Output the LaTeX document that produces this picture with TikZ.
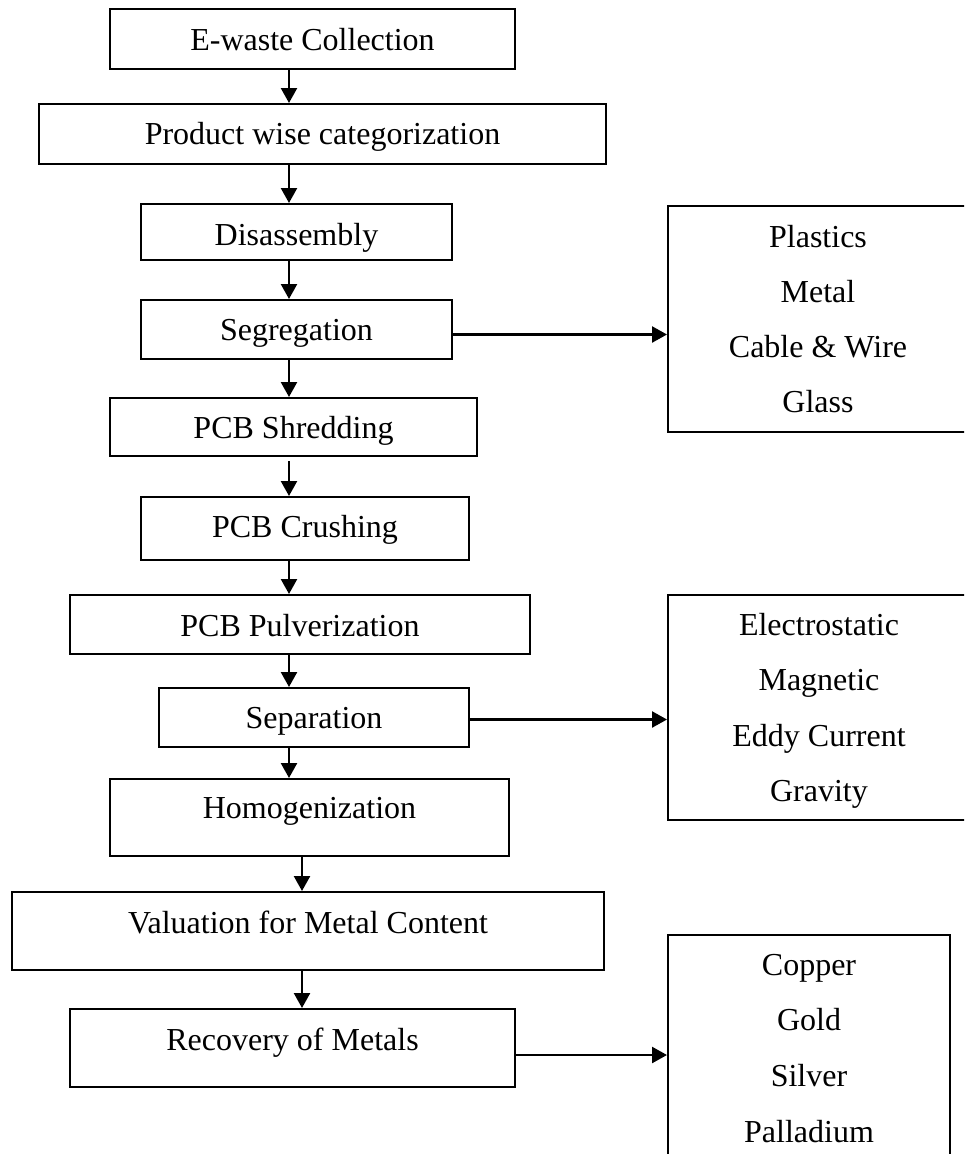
\documentclass[tikz,border=0pt]{standalone}
\usepackage{fontspec}
\setmainfont{Liberation Serif}
\usetikzlibrary{arrows.meta}
\begin{document}
\begin{tikzpicture}[x=1pt,y=-1pt,
  box/.style={draw, line width=2pt, inner sep=0pt},
  lbl/.style={anchor=base, inner sep=0pt, font=\fontsize{32}{38}\selectfont},
  arr/.style={line width=2.4pt, -{Triangle[length=15pt,width=16pt]}}]
\useasboundingbox (0,0) rectangle (964,1154);
\clip (0,0) rectangle (964,1154);
\fill[white] (0,0) rectangle (964,1154);
\coordinate (ax) at (289,0);
\coordinate (bx) at (302,0);
% main column
\node[box, minimum width=405pt, minimum height=60pt] (b1) at (312.5,39) {};
\node[lbl] (t1) at (312.5,50) {E-waste Collection};
\node[box, minimum width=567pt, minimum height=60pt] (b2) at (322.5,134) {};
\node[lbl] (t2) at (322.5,144) {Product wise categorization};
\node[box, minimum width=311pt, minimum height=56pt] (b3) at (296.5,232) {};
\node[lbl] (t3) at (296.5,245) {Disassembly};
\node[box, minimum width=311pt, minimum height=59pt] (b4) at (296.5,329.5) {};
\node[lbl] (t4) at (296.5,340) {Segregation};
\node[box, minimum width=367pt, minimum height=58pt] (b5) at (293.5,427) {};
\node[lbl] (t5) at (293.5,438) {PCB Shredding};
\node[box, minimum width=328pt, minimum height=63pt] (b6) at (305,528.5) {};
\node[lbl] (t6) at (305,537) {PCB Crushing};
\node[box, minimum width=460pt, minimum height=59pt] (b7) at (300,624.5) {};
\node[lbl] (t7) at (300,636) {PCB Pulverization};
\node[box, minimum width=310pt, minimum height=59pt] (b8) at (314,717.5) {};
\node[lbl] (t8) at (314,728) {Separation};
\node[box, minimum width=399pt, minimum height=77pt] (b9) at (309.5,817.5) {};
\node[lbl] (t9) at (309.5,818) {Homogenization};
\node[box, minimum width=592pt, minimum height=78pt] (b10) at (308,931) {};
\node[lbl] (t10) at (308,933) {Valuation for Metal Content};
\node[box, minimum width=445pt, minimum height=78pt] (b11) at (292.5,1048) {};
\node[lbl] (t11) at (292.5,1050) {Recovery of Metals};
% side boxes
\node[box, minimum width=312pt, minimum height=226pt] (A) at (824,319) {};
\node[lbl] (a1) at (818,247) {Plastics};
\node[lbl] (a2) at (818,302) {Metal};
\node[lbl] (a3) at (818,357) {Cable \& Wire};
\node[lbl] (a4) at (818,412) {Glass};
\node[box, minimum width=312pt, minimum height=225pt] (B) at (824,707.5) {};
\node[lbl] (c1) at (819,635) {Electrostatic};
\node[lbl] (c2) at (819,690) {Magnetic};
\node[lbl] (c3) at (819,746) {Eddy Current};
\node[lbl] (c4) at (819,801) {Gravity};
\node[box, minimum width=282pt, minimum height=250pt] (C) at (809,1060) {};
\node[lbl] (d1) at (809,975) {Copper};
\node[lbl] (d2) at (809,1030) {Gold};
\node[lbl] (d3) at (809,1086) {Silver};
\node[lbl] (d4) at (809,1142) {Palladium};
% vertical arrows
\draw[arr] (b1.south -| ax) -- (b2.north -| ax);
\draw[arr] (b2.south -| ax) -- (b3.north -| ax);
\draw[arr] (b3.south -| ax) -- (b4.north -| ax);
\draw[arr] (b4.south -| ax) -- (b5.north -| ax);
\coordinate (g5) at ([yshift=-4pt]b5.south);
\draw[arr] (g5 -| ax) -- (b6.north -| ax);
\draw[arr] (b6.south -| ax) -- (b7.north -| ax);
\draw[arr] (b7.south -| ax) -- (b8.north -| ax);
\draw[arr] (b8.south -| ax) -- (b9.north -| ax);
\draw[arr] (b9.south -| bx) -- (b10.north -| bx);
\draw[arr] (b10.south -| bx) -- (b11.north -| bx);
% horizontal arrows
\coordinate (s4) at ([yshift=-5pt]b4.east);
\draw[arr] (s4) -- (s4 -| A.west);
\coordinate (s8) at ([yshift=-2pt]b8.east);
\draw[arr] (s8) -- (s8 -| B.west);
\coordinate (s11) at ([yshift=-7pt]b11.east);
\draw[arr] (s11) -- (s11 -| C.west);
\end{tikzpicture}
\end{document}
